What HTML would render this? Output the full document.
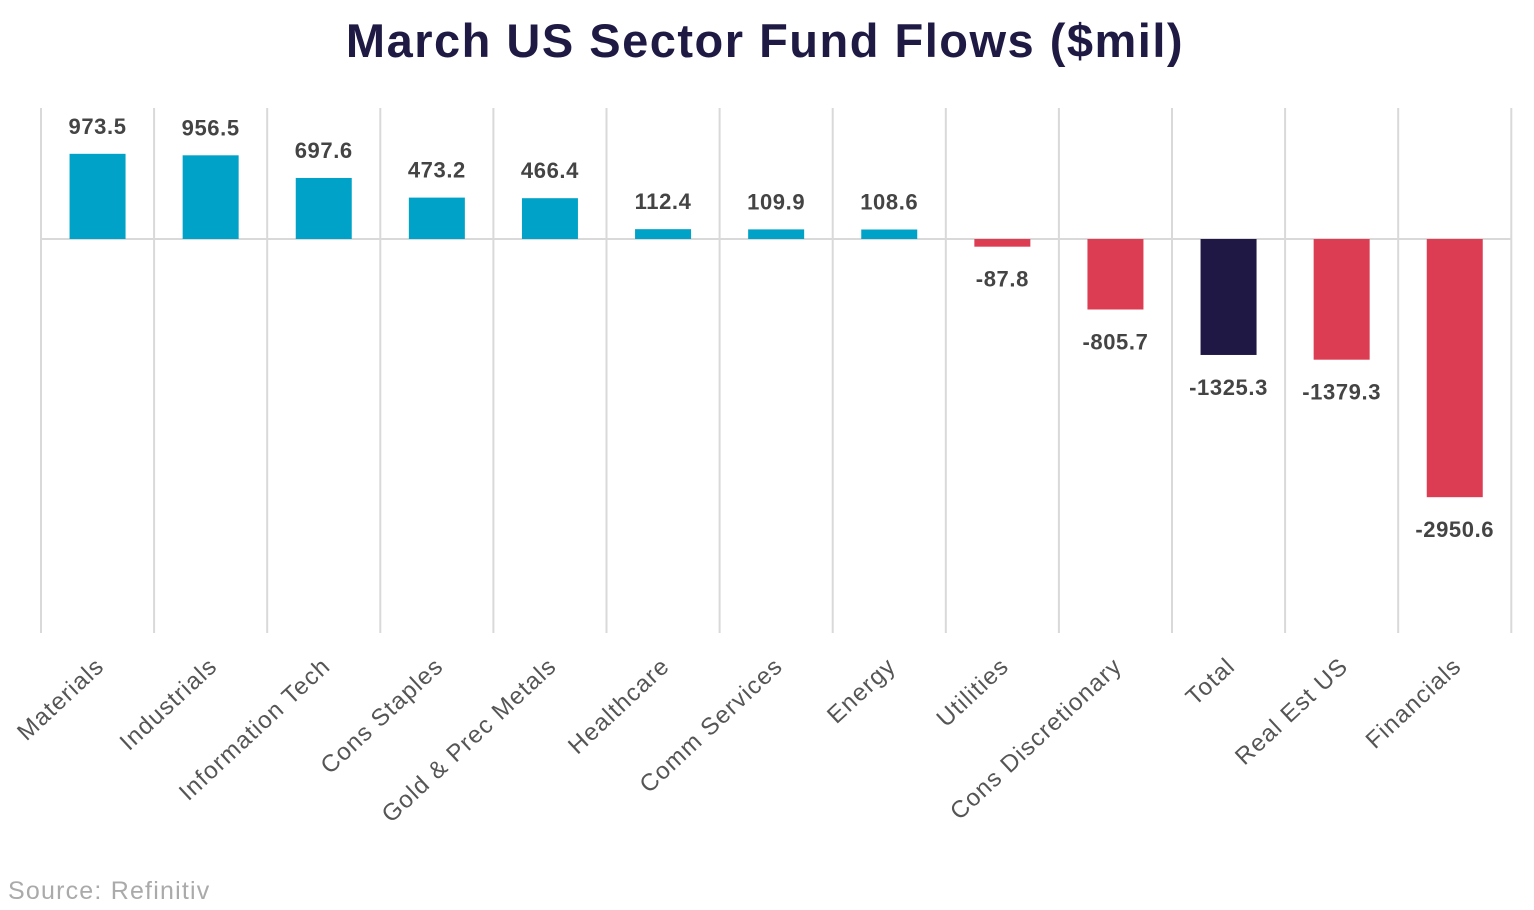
<!DOCTYPE html>
<html><head><meta charset="utf-8"><style>
body{margin:0;background:#fff;}
svg{display:block;font-family:"Liberation Sans",sans-serif;}
</style></head><body>
<svg id="chart" width="1534" height="910">
<text x="765" y="57" text-anchor="middle" font-size="47" font-weight="bold" letter-spacing="1.5" fill="#1e1a44">March US Sector Fund Flows ($mil)</text>
<text x="8" y="899" font-size="25" letter-spacing="1.2" fill="#aaa">Source: Refinitiv</text>
<g id="grid"></g><g id="bars"></g><g id="labels"></g>
</svg>
<script>
const categories=["Materials","Industrials","Information Tech","Cons Staples","Gold & Prec Metals","Healthcare","Comm Services","Energy","Utilities","Cons Discretionary","Total","Real Est US","Financials"];
const values=[973.5,956.5,697.6,473.2,466.4,112.4,109.9,108.6,-87.8,-805.7,-1325.3,-1379.3,-2950.6];
const valueLabels=["973.5","956.5","697.6","473.2","466.4","112.4","109.9","108.6","-87.8","-805.7","-1325.3","-1379.3","-2950.6"];
const NS="http://www.w3.org/2000/svg";
const x0=41,colW=113.1,zeroY=239,scale=0.0875;
const y=v=>zeroY-v*scale;
const cx=i=>x0+colW*(i+0.5);
function mk(t,a,p){const e=document.createElementNS(NS,t);for(const k in a)e.setAttribute(k,a[k]);p.appendChild(e);return e;}
const grid=document.getElementById('grid'),bars=document.getElementById('bars'),labels=document.getElementById('labels');
for(let i=0;i<=categories.length;i++){
 const l=mk('line',{x1:x0+colW*i,x2:x0+colW*i,y1:108,y2:633,stroke:'#d9d9d9','stroke-width':2},grid);
 
 
}
const z=mk('line',{x1:x0,x2:x0+colW*categories.length,y1:zeroY,y2:zeroY,stroke:'#d9d9d9','stroke-width':2},grid);


categories.forEach((c,i)=>{
 const v=values[i];
 const col=c==="Total"?'#1f1845':(v>=0?'#00a3c7':'#dd3d52');
 const top=Math.min(y(v),zeroY),h=Math.abs(y(v)-zeroY);
 const r=mk('rect',{x:cx(i)-28,y:top,width:56,height:Math.max(h,1),fill:col},bars);
 
 
 const ly=v>=0?y(v)-20:y(v)+40;
 const t=mk('text',{x:cx(i),y:ly,'text-anchor':'middle','font-size':22,'font-weight':'bold','letter-spacing':0.6,fill:'#444'},labels);
 t.textContent=valueLabels[i];
 
 
 const a=mk('text',{x:cx(i)+8,y:668,'text-anchor':'end','font-size':24,'letter-spacing':1.2,fill:'#555',transform:`rotate(-43 ${cx(i)+8} 668)`},labels);
 a.textContent=c;
 
 
});
</script>
</body></html>
